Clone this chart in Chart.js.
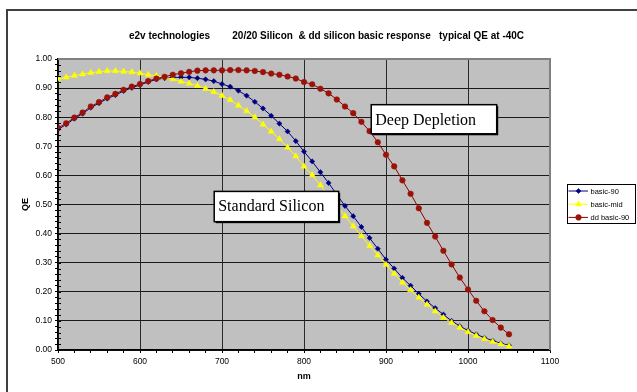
<!DOCTYPE html>
<html><head><meta charset="utf-8">
<script src="https://cdn.jsdelivr.net/npm/chart.js@4.4.1/dist/chart.umd.min.js"></script>
<style>html,body{margin:0;padding:0;background:#fff;}#wrap{width:637px;height:392px;position:relative;}</style>
</head><body><div id="wrap"><canvas id="c" width="637" height="392"></canvas></div>
<script>
// ---------- data ----------
const wavelengths = [500,510,520,530,540,550,560,570,580,590,600,610,620,630,640,650,660,670,680,690,700,710,720,730,740,750,760,770,780,790,800,810,820,830,840,850,860,870,880,890,900,910,920,930,940,950,960,970,980,990,1000,1010,1020,1030,1040,1050];
const basic90 = [0.758,0.775,0.795,0.812,0.833,0.848,0.864,0.876,0.890,0.901,0.911,0.921,0.930,0.934,0.937,0.937,0.937,0.934,0.930,0.924,0.914,0.905,0.891,0.874,0.853,0.830,0.805,0.778,0.751,0.718,0.682,0.648,0.611,0.574,0.534,0.495,0.460,0.423,0.385,0.348,0.311,0.280,0.248,0.221,0.193,0.167,0.144,0.122,0.100,0.082,0.067,0.054,0.042,0.032,0.023,0.016];
const basicMid = [0.931,0.937,0.943,0.948,0.953,0.956,0.959,0.959,0.957,0.955,0.951,0.946,0.942,0.937,0.931,0.923,0.916,0.908,0.898,0.887,0.874,0.859,0.840,0.821,0.800,0.775,0.751,0.725,0.696,0.666,0.631,0.601,0.566,0.531,0.496,0.460,0.425,0.392,0.358,0.326,0.293,0.262,0.232,0.206,0.180,0.156,0.133,0.111,0.094,0.077,0.062,0.049,0.038,0.028,0.020,0.013];
const ddBasic90 = [0.763,0.779,0.799,0.816,0.837,0.852,0.868,0.880,0.894,0.905,0.914,0.924,0.933,0.939,0.946,0.951,0.956,0.960,0.961,0.961,0.961,0.962,0.962,0.961,0.959,0.955,0.950,0.946,0.940,0.933,0.921,0.913,0.898,0.882,0.861,0.837,0.814,0.784,0.752,0.714,0.671,0.631,0.583,0.537,0.487,0.437,0.390,0.341,0.294,0.249,0.208,0.169,0.133,0.103,0.077,0.054];
const seriesNames = ['basic-90','basic-mid','dd basic-90'];
const xTickLabels = [500,600,700,800,900,1000,1100];
const yTickLabels = [0.0,0.1,0.2,0.3,0.4,0.5,0.6,0.7,0.8,0.9,1.0];
const chartTitle = 'e2v technologies        20/20 Silicon  & dd silicon basic response   typical QE at -40C';
const xAxisTitle = 'nm';
const yAxisTitle = 'QE';
const noteTexts = ['Deep Depletion','Standard Silicon'];

// ---------- styling ----------
const SANS = '"Liberation Sans", Arial, sans-serif';
const SERIF = '"Liberation Serif", "Times New Roman", serif';
const styles = [
  {color:'#000080', fill:'#000080', shape:'rectRot', r:2.6},
  {color:'#FFFF00', fill:'#FFFF00', shape:'triangle', r:3.5},
  {color:'#8B0000', fill:'#9A1208', shape:'circle', r:2.8}
];
const seriesValues = [basic90, basicMid, ddBasic90];
const datasets = seriesValues.map((vals, i) => ({
  label: seriesNames[i],
  data: wavelengths.map((w, k) => ({x: w, y: vals[k]})),
  borderColor: styles[i].color,
  borderWidth: 1,
  pointStyle: styles[i].shape,
  pointRadius: styles[i].r,
  pointBackgroundColor: styles[i].fill,
  pointBorderColor: styles[i].fill,
  pointBorderWidth: 0.5,
  tension: 0,
  order: 3 - i
}));

const isMajorX = v => xTickLabels.some(t => Math.abs(t - v) < 1e-6);
const isMajorY = v => yTickLabels.some(t => Math.abs(t - v) < 1e-6);

function marker(ctx, shape, x, y, r, fill) {
  ctx.save();
  ctx.fillStyle = fill; ctx.strokeStyle = fill; ctx.lineWidth = 0.5;
  ctx.beginPath();
  if (shape === 'circle') ctx.arc(x, y, r, 0, Math.PI * 2);
  else if (shape === 'rectRot') { ctx.moveTo(x - r, y); ctx.lineTo(x, y - r); ctx.lineTo(x + r, y); ctx.lineTo(x, y + r); ctx.closePath(); }
  else if (shape === 'triangle') { const s = r * Math.sqrt(3) / 2; ctx.moveTo(x, y - r); ctx.lineTo(x + s, y + r / 2); ctx.lineTo(x - s, y + r / 2); ctx.closePath(); }
  ctx.fill(); ctx.stroke();
  ctx.restore();
}

const decor = {
  id: 'decor',
  beforeDraw(chart) {
    const {ctx, chartArea: a} = chart;
    ctx.save();
    ctx.fillStyle = '#fff';
    ctx.fillRect(0, 0, chart.width, chart.height);
    ctx.fillStyle = '#C0C0C0';
    ctx.fillRect(a.left, a.top, a.right - a.left, a.bottom - a.top);
    ctx.restore();
  },
  afterDraw(chart) {
    const {ctx, chartArea: a, scales: {x, y}} = chart;
    ctx.save();
    ctx.strokeStyle = '#000'; ctx.lineWidth = 1;
    y.ticks.forEach(t => {
      const py = Math.round(y.getPixelForValue(t.value)) + 0.5;
      ctx.beginPath(); ctx.moveTo(a.left, py); ctx.lineTo(a.left + 3, py); ctx.stroke();
    });
    ctx.strokeStyle = '#808080'; ctx.lineWidth = 2;
    ctx.beginPath(); ctx.moveTo(a.left, a.top); ctx.lineTo(a.right, a.top); ctx.lineTo(a.right, a.bottom); ctx.stroke();

    const notes = [
      {text: noteTexts[0], x0: 882, x1: 1035, y0: 0.843, y1: 0.743},
      {text: noteTexts[1], x0: 690.5, x1: 842.3, y0: 0.545, y1: 0.441}
    ];
    notes.forEach(n => {
      const l = x.getPixelForValue(n.x0), r = x.getPixelForValue(n.x1);
      const t = y.getPixelForValue(n.y0), b = y.getPixelForValue(n.y1);
      ctx.fillStyle = '#000';
      ctx.fillRect(l + 1.5, t + 1.5, r - l, b - t);
      ctx.fillStyle = '#fff';
      ctx.fillRect(l, t, r - l, b - t);
      ctx.strokeStyle = '#000'; ctx.lineWidth = 1.5;
      ctx.strokeRect(l, t, r - l, b - t);
      ctx.fillStyle = '#000';
      ctx.font = '16px ' + SERIF;
      ctx.textBaseline = 'alphabetic'; ctx.textAlign = 'left';
      ctx.fillText(n.text, l + 4, t + 20);
    });

    const lx = a.right + 17, ly = 184, lw = 68, lh = 39;
    ctx.fillStyle = '#fff'; ctx.fillRect(lx, ly, lw, lh);
    ctx.strokeStyle = '#000'; ctx.lineWidth = 1;
    ctx.strokeRect(lx + 0.5, ly + 0.5, lw, lh);
    ctx.font = '7.5px ' + SANS; ctx.textBaseline = 'middle'; ctx.textAlign = 'left';
    chart.data.datasets.forEach((ds, i) => {
      const ry = ly + 7 + i * 13.2;
      ctx.strokeStyle = ds.borderColor; ctx.lineWidth = 1;
      ctx.beginPath(); ctx.moveTo(lx + 1.5, ry); ctx.lineTo(lx + 21, ry); ctx.stroke();
      marker(ctx, styles[i].shape, lx + 11.5, ry, styles[i].r, styles[i].fill);
      ctx.fillStyle = '#000';
      ctx.fillText(ds.label, lx + 23.5, ry + 0.5);
    });

    ctx.fillStyle = '#000';
    ctx.font = 'bold 10px ' + SANS; ctx.textAlign = 'center'; ctx.textBaseline = 'middle';
    ctx.fillText(chartTitle, 326.5, 36);

    ctx.strokeStyle = '#404040'; ctx.lineWidth = 2;
    ctx.beginPath(); ctx.moveTo(7, chart.height); ctx.lineTo(7, 10); ctx.lineTo(chart.width, 10); ctx.stroke();
    ctx.restore();
  }
};

new Chart(document.getElementById('c'), {
  type: 'line',
  data: {datasets},
  options: {
    responsive: false,
    animation: false,
    events: [],
    devicePixelRatio: 1,
    layout: {padding: {left: 0, top: 59, right: 87, bottom: 0}},
    plugins: {legend: {display: false}, title: {display: false}, tooltip: {enabled: false}},
    scales: {
      x: {
        type: 'linear', min: 500, max: 1100,
        afterFit: s => { s.height = 42; },
        ticks: {
          stepSize: 20, autoSkip: false, maxRotation: 0, padding: 4,
          color: '#000', font: {family: SANS, size: 8.5},
          callback: v => isMajorX(v) ? String(v) : ''
        },
        grid: {
          color: c => (c.tick && isMajorX(c.tick.value) && c.tick.value !== 1100) ? '#2a2a2a' : 'rgba(0,0,0,0)',
          lineWidth: 1, tickLength: 3, tickColor: '#000', tickWidth: 1
        },
        border: {color: '#000', width: 1.5},
        title: {display: true, text: xAxisTitle, color: '#000', font: {family: SANS, size: 9, weight: 'bold'}, padding: {top: 0, bottom: 10}}
      },
      y: {
        min: 0, max: 1,
        afterFit: s => { s.width = 58; },
        ticks: {
          stepSize: 0.02, autoSkip: false, padding: 3,
          color: '#000', font: {family: SANS, size: 8.5},
          callback: v => isMajorY(v) ? v.toFixed(2) : ''
        },
        grid: {
          color: c => (c.tick && isMajorY(c.tick.value) && c.tick.value < 0.999) ? '#1a1a1a' : 'rgba(0,0,0,0)',
          lineWidth: 1, tickLength: 3, tickColor: '#000', tickWidth: 1
        },
        border: {color: '#000', width: 1.5},
        title: {display: true, text: yAxisTitle, color: '#000', font: {family: SANS, size: 9, weight: 'bold'}, padding: {top: 20, bottom: 0}}
      }
    }
  },
  plugins: [decor]
});
</script>
</body></html>
